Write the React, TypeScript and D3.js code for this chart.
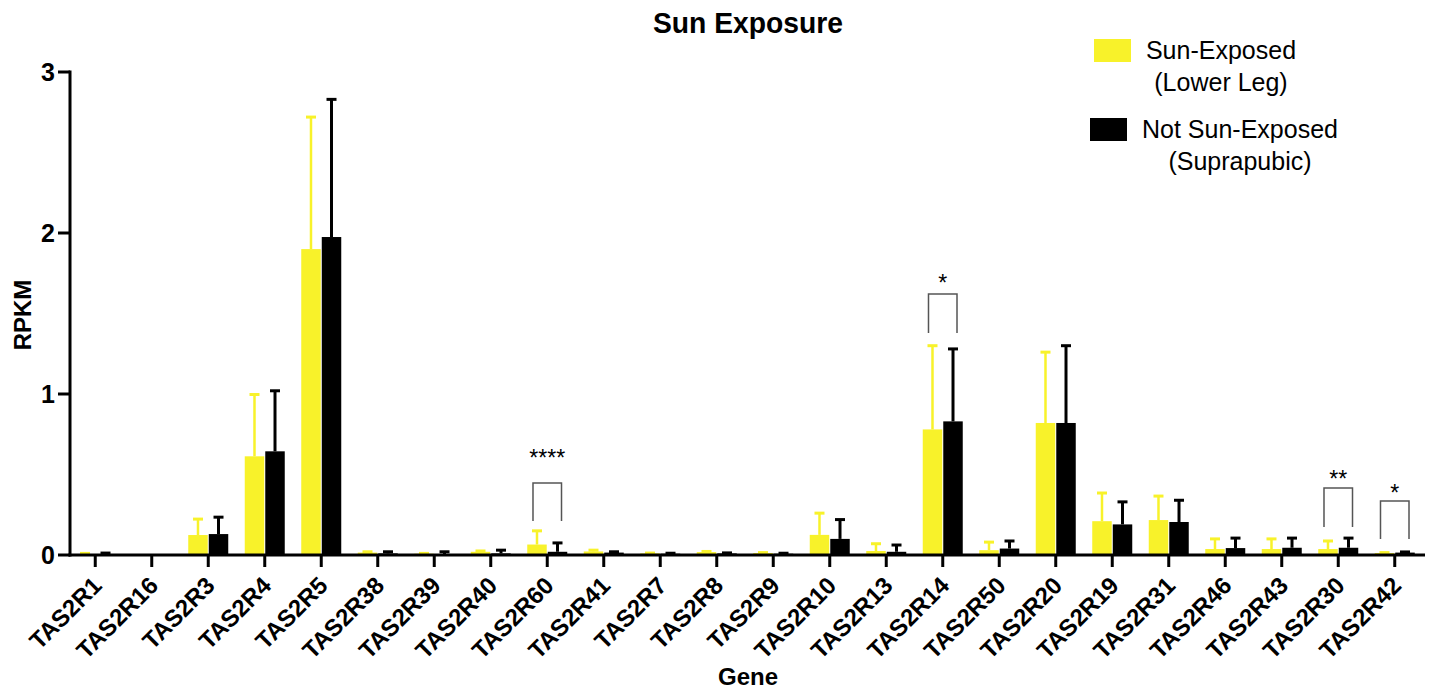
import React from "react";
import * as d3 from "d3";

const genes = [
  "TAS2R1", "TAS2R16", "TAS2R3", "TAS2R4", "TAS2R5", "TAS2R38", "TAS2R39", "TAS2R40",
  "TAS2R60", "TAS2R41", "TAS2R7", "TAS2R8", "TAS2R9", "TAS2R10", "TAS2R13", "TAS2R14",
  "TAS2R50", "TAS2R20", "TAS2R19", "TAS2R31", "TAS2R46", "TAS2R43", "TAS2R30", "TAS2R42",
];

const sunMean = [0.006, 0, 0.124, 0.613, 1.9, 0.015, 0.008, 0.02, 0.065, 0.022, 0.01, 0.018, 0.012, 0.125, 0.025, 0.78, 0.03, 0.82, 0.21, 0.217, 0.037, 0.037, 0.037, 0.012];
const sunSD = [0.004, 0, 0.099, 0.384, 0.82, 0.005, 0.002, 0.005, 0.085, 0.008, 0.002, 0.004, 0.003, 0.135, 0.045, 0.52, 0.05, 0.44, 0.175, 0.149, 0.063, 0.063, 0.05, 0.003];
const notSunMean = [0.006, 0, 0.13, 0.644, 1.975, 0.01, 0.005, 0.01, 0.02, 0.015, 0.008, 0.01, 0.008, 0.1, 0.02, 0.83, 0.04, 0.82, 0.19, 0.205, 0.043, 0.045, 0.045, 0.015];
const notSunSD = [0.006, 0, 0.105, 0.376, 0.855, 0.01, 0.015, 0.02, 0.055, 0.005, 0.003, 0.003, 0.003, 0.12, 0.042, 0.45, 0.047, 0.48, 0.14, 0.135, 0.062, 0.06, 0.06, 0.004];

const yTicks = [0, 1, 2, 3];
const seriesNames = ["Sun-Exposed", "Not Sun-Exposed"];
const legendLines = [["Sun-Exposed", "(Lower Leg)"], ["Not Sun-Exposed", "(Suprapubic)"]];
const seriesColors = ["#F8F22A", "#000000"];

// significance annotations: gene, label, bracket top, leg bottom, label baseline (data units)
const sigGenes = ["TAS2R60", "TAS2R14", "TAS2R30", "TAS2R42"];
const sigLabels = ["****", "*", "**", "*"];
const sigTop = [0.447, 1.621, 0.416, 0.335];
const sigBottom = [0.211, 1.379, 0.174, 0.099];
const sigLabelY = [0.553, 1.64, 0.425, 0.338];

const FONT = "'Liberation Sans', Arial, Helvetica, sans-serif";

export default function App() {
  const W = 1432, H = 692;
  const x0 = 70, yBase = 555, yTop = 72;
  const x = d3.scaleBand<string>().domain(genes).range([67, 1423]).padding(0);
  const x1 = d3.scaleBand<string>().domain(seriesNames).range([-20, 20]).paddingInner(0.05);
  const y = d3.scaleLinear().domain([0, 3]).range([yBase, yTop]);
  const center = (g: string) => (x(g) as number) + x.bandwidth() / 2;

  const series = [
    { name: seriesNames[0], mean: sunMean, sd: sunSD, color: seriesColors[0], errW: 2.5 },
    { name: seriesNames[1], mean: notSunMean, sd: notSunSD, color: seriesColors[1], errW: 3 },
  ];

  return (
    <div style={{ position: "absolute", left: 0, top: 0 }}>
      <svg width={W} height={H} style={{ display: "block", background: "#fff" }} fontFamily={FONT}>
        <text x={748} y={33} textAnchor="middle" fontSize={30} fontWeight="bold" textLength={190} lengthAdjust="spacingAndGlyphs">Sun Exposure</text>

        {/* bars */}
        {series.map((s) => (
          <g key={s.name}>
            {genes.map((g, i) => {
              const bx = center(g) + (x1(s.name) as number);
              const bw = x1.bandwidth();
              const cx = bx + bw / 2;
              const top = y(s.mean[i]);
              const errTop = y(s.mean[i] + s.sd[i]);
              return (
                <g key={g}>
                  {s.mean[i] > 0 && (
                    <rect x={bx} y={top} width={bw} height={yBase - top} fill={s.color} />
                  )}
                  {s.sd[i] > 0 && (
                    <g stroke={s.color} strokeWidth={s.errW}>
                      <line x1={cx} x2={cx} y1={top} y2={errTop} />
                      <line x1={cx - 5} x2={cx + 5} y1={errTop} y2={errTop} strokeWidth={3} />
                    </g>
                  )}
                </g>
              );
            })}
          </g>
        ))}

        {/* axes */}
        <g stroke="#000" strokeWidth={3}>
          <line x1={x0} x2={x0} y1={yTop - 1.5} y2={yBase + 1.5} />
          <line x1={x0 - 1.5} x2={1425} y1={yBase} y2={yBase} />
          {yTicks.map((t) => (
            <line key={t} x1={x0 - 12} x2={x0} y1={y(t)} y2={y(t)} />
          ))}
          {genes.map((g) => (
            <line key={g} x1={center(g)} x2={center(g)} y1={yBase} y2={yBase + 12} />
          ))}
        </g>
        {yTicks.map((t) => (
          <text key={t} x={55} y={y(t)} dy="0.36em" textAnchor="end" fontSize={25} fontWeight="bold">{t}</text>
        ))}
        {genes.map((g) => (
          <text key={g} transform={`translate(${center(g) + 8},${yBase + 32}) rotate(-45)`} textAnchor="end" fontSize={24} fontWeight="bold">{g}</text>
        ))}
        <text transform={`translate(31,315) rotate(-90)`} textAnchor="middle" fontSize={24} fontWeight="bold">RPKM</text>
        <text x={748} y={685} textAnchor="middle" fontSize={24} fontWeight="bold">Gene</text>

        {/* significance */}
        {sigGenes.map((g, i) => {
          const xl = center(g) + (x1(seriesNames[0]) as number) + x1.bandwidth() / 2 - 4;
          const xr = center(g) + (x1(seriesNames[1]) as number) + x1.bandwidth() / 2 + 4;
          return (
            <g key={g}>
              <path d={`M${xl},${y(sigBottom[i])}V${y(sigTop[i])}H${xr}V${y(sigBottom[i])}`} fill="none" stroke="#555" strokeWidth={1.5} />
              <text x={(xl + xr) / 2} y={y(sigLabelY[i])} textAnchor="middle" fontSize={23}>{sigLabels[i]}</text>
            </g>
          );
        })}

        {/* legend */}
        {legendLines.map((lines, i) => (
          <g key={i}>
            <rect x={i === 0 ? 1094 : 1090} y={i === 0 ? 39 : 118} width={37} height={23} fill={seriesColors[i]} />
            {lines.map((ln, j) => (
              <text key={j} x={i === 0 ? 1221 : 1240} y={(i === 0 ? 59 : 138) + j * 32} textAnchor="middle" fontSize={25}>{ln}</text>
            ))}
          </g>
        ))}
      </svg>
    </div>
  );
}
